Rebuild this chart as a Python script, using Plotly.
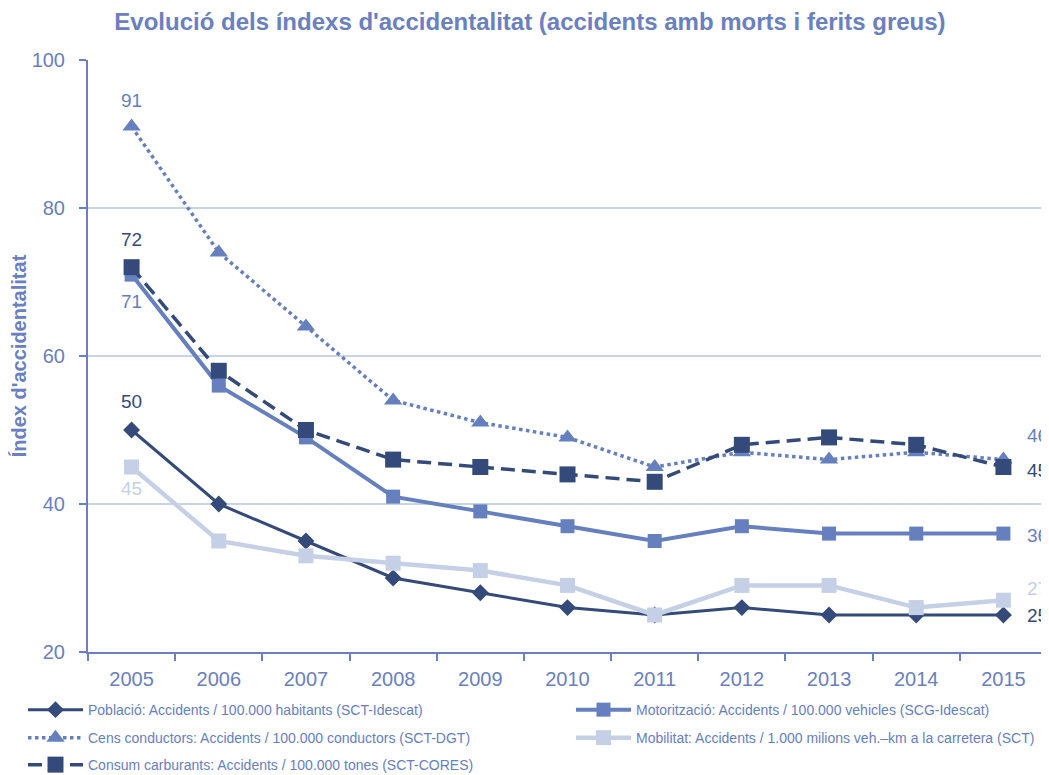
import plotly.graph_objects as go

years = ["2005", "2006", "2007", "2008", "2009", "2010", "2011", "2012", "2013", "2014", "2015"]

poblacio = [50, 40, 35, 30, 28, 26, 25, 26, 25, 25, 25]
motoritzacio = [71, 56, 49, 41, 39, 37, 35, 37, 36, 36, 36]
cens = [91, 74, 64, 54, 51, 49, 45, 47, 46, 47, 46]
mobilitat = [45, 35, 33, 32, 31, 29, 25, 29, 29, 26, 27]
consum = [72, 58, 50, 46, 45, 44, 43, 48, 49, 48, 45]

NAVY = "#334a7a"
MID = "#6680bf"
LIGHT = "#c5d0e6"
AXIS = "#6a80c0"
GRID = "#c9d3ea"

FONT = "Liberation Sans, Arial, sans-serif"

fig = go.Figure()

# name, values, colour, dash, marker, size, line width, legend slot
series = [
    ("Població: Accidents / 100.000 habitants (SCT-Idescat)", poblacio, NAVY, "solid", "diamond", 13, 3, "legend"),
    ("Motorització: Accidents / 100.000 vehicles (SCG-Idescat)", motoritzacio, MID, "solid", "square", 14, 4, "legend2"),
    ("Cens conductors: Accidents / 100.000 conductors (SCT-DGT)", cens, MID, "dot", "triangle-up", 16, 3.5, "legend3"),
    ("Mobilitat: Accidents / 1.000 milions veh.\u2013km a la carretera (SCT)", mobilitat, LIGHT, "solid", "square", 15, 4.5, "legend4"),
    ("Consum carburants: Accidents / 100.000 tones (SCT-CORES)", consum, NAVY, "14px,7px", "square", 16, 3.5, "legend5"),
]

for name, vals, color, dash, symbol, msize, width, leg in series:
    fig.add_trace(
        go.Scatter(
            x=years,
            y=vals,
            name=name,
            mode="lines+markers",
            line=dict(color=color, width=width, dash=dash),
            marker=dict(color=color, symbol=symbol, size=msize),
            cliponaxis=False,
            legend=leg,
        )
    )

# value labels at the first year (index 0 on the category axis)
start_labels = [
    (cens[0], MID, 26),
    (consum[0], NAVY, 28),
    (motoritzacio[0], MID, -27),
    (poblacio[0], NAVY, 29),
    (mobilitat[0], LIGHT, -21),
]
for val, color, shift in start_labels:
    fig.add_annotation(
        x=0, y=val, text=str(val), showarrow=False,
        yshift=shift, font=dict(size=19, color=color, family=FONT),
    )

# value labels after the last year
end_labels = [
    (cens[-1], MID, 24),
    (consum[-1], NAVY, -3),
    (motoritzacio[-1], MID, -2),
    (mobilitat[-1], LIGHT, 12),
    (poblacio[-1], NAVY, 0),
]
for val, color, shift in end_labels:
    fig.add_annotation(
        x=len(years) - 1, y=val, text=str(val), showarrow=False,
        xanchor="left", xshift=22, yshift=shift,
        font=dict(size=19, color=color, family=FONT),
    )


def leg(x, y):
    return dict(
        orientation="h",
        xref="container", yref="container",
        x=x, y=y,
        xanchor="left", yanchor="middle",
        itemwidth=55,
        font=dict(size=14, color=MID, family=FONT),
        bgcolor="rgba(0,0,0,0)",
    )


fig.update_layout(
    width=1041,
    height=767,
    plot_bgcolor="white",
    paper_bgcolor="white",
    font=dict(family=FONT, color=AXIS),
    title=dict(
        text="<b>Evolució dels índexs d'accidentalitat (accidents amb morts i ferits greus)</b>",
        x=0.5014, xanchor="center", y=0.9817, yanchor="middle",
        font=dict(size=24, color=AXIS, family=FONT),
    ),
    margin=dict(l=80, r=2, t=52, b=123),
    showlegend=True,
    legend=leg(0.0144, 0.0847),
    legend2=leg(0.5408, 0.0847),
    legend3=leg(0.0144, 0.0482),
    legend4=leg(0.5408, 0.0482),
    legend5=leg(0.0144, 0.0130),
)

fig.update_xaxes(
    type="category",
    range=[-0.5, 10.5],
    showline=True, linecolor=AXIS, linewidth=2,
    ticks="outside", tickson="boundaries", ticklen=7, tickcolor=AXIS, tickwidth=2,
    ticklabelstandoff=8,
    showgrid=False,
    automargin=False,
    tickfont=dict(size=20, color=AXIS, family=FONT),
)
fig.update_yaxes(
    range=[20, 100],
    dtick=20,
    automargin=False,
    showline=True, linecolor=AXIS, linewidth=2,
    ticks="outside", ticklen=7, tickcolor=AXIS, tickwidth=2,
    ticklabelstandoff=10,
    showgrid=True, gridcolor=GRID, gridwidth=1.5,
    zeroline=False,
    tickfont=dict(size=20, color=AXIS, family=FONT),
    title=dict(text="<b>Índex d'accidentalitat</b>", font=dict(size=20, color=AXIS, family=FONT), standoff=12),
)

fig.write_html("out.html")
